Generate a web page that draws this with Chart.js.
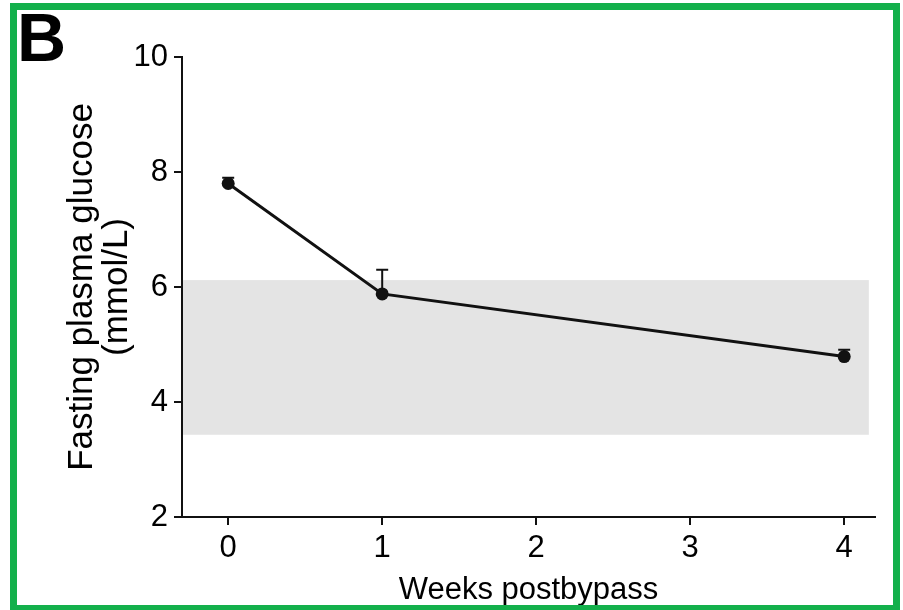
<!DOCTYPE html>
<html>
<head>
<meta charset="utf-8">
<script src="https://cdn.jsdelivr.net/npm/chart.js@4"></script>
<style>
  html, body { margin: 0; padding: 0; background: #fff; }
  #wrap { position: relative; width: 903px; height: 610px; overflow: hidden; }
  #chart-box { position: absolute; left: 0; top: 0; width: 903px; height: 610px; }
  #frame {
    position: absolute; left: 10px; top: 3px; width: 890px; height: 609px;
    box-sizing: border-box; border: 7px solid #13b04b; pointer-events: none;
  }
  #panel {
    position: absolute; left: 17px; top: 3px;
    font: bold 68px "Liberation Sans", Arial, sans-serif; line-height: 1; color: #000;
  }
</style>
</head>
<body>
<div id="wrap">
  <div id="chart-box"><canvas id="line-chart"></canvas></div>
  <div id="frame"></div>
  <div id="panel">B</div>
</div>
<script>
// datos
const weeks = [0, 1, 4];
const glucose = [7.8, 5.88, 4.79];
const glucoseErr = [0.1, 0.42, 0.12];   // solo barra superior
const normalRange = [3.43, 6.12];        // banda gris (rango normal)
const xTicks = [0, 1, 2, 3, 4];
const yTicks = [2, 4, 6, 8, 10];

const ink = '#111';
const fontFamily = '"Liberation Sans", Arial, sans-serif';

// banda gris + barras de error, dibujadas con las escalas del grafico
const extras = {
  id: 'extras',
  beforeDatasetsDraw(chart, args, opts) {
    const {ctx, chartArea, scales: {x, y}} = chart;
    ctx.save();
    // banda
    const top = y.getPixelForValue(normalRange[1]);
    const bottom = y.getPixelForValue(normalRange[0]);
    const right = x.getPixelForValue(opts.bandEnd);
    ctx.fillStyle = '#e4e4e4';
    ctx.fillRect(chartArea.left + 1, top, right - chartArea.left - 1, bottom - top);

    // barras de error
    ctx.strokeStyle = ink;
    ctx.lineWidth = 2;
    for (let i = 0; i < weeks.length; i++) {
      const px = x.getPixelForValue(weeks[i]);
      const py = y.getPixelForValue(glucose[i]);
      const pe = y.getPixelForValue(glucose[i] + glucoseErr[i]);
      ctx.beginPath();
      ctx.moveTo(px, py);
      ctx.lineTo(px, pe);
      ctx.moveTo(px - 6, pe);
      ctx.lineTo(px + 6, pe);
      ctx.stroke();
    }
    ctx.restore();
  }
};

new Chart(document.getElementById('line-chart'), {
  type: 'scatter',
  data: {
    datasets: [{
      label: 'Glucosa',
      data: weeks.map((w, i) => ({x: w, y: glucose[i]})),
      showLine: true,
      borderColor: ink,
      borderWidth: 3,
      backgroundColor: ink,
      pointBackgroundColor: ink,
      pointBorderColor: ink,
      pointRadius: 6.5,
      pointBorderWidth: 0
    }]
  },
  plugins: [extras],
  options: {
    responsive: true,
    maintainAspectRatio: false,
    animation: false,
    layout: { padding: { left: 0, right: 28, top: 57, bottom: 0 } },
    plugins: {
      legend: { display: false },
      tooltip: { enabled: false },
      extras: { bandEnd: 4.16 }
    },
    scales: {
      x: {
        type: 'linear',
        min: -0.3,
        max: 4.2,
        afterBuildTicks: s => { s.ticks = xTicks.map(v => ({value: v})); },
        afterFit: s => { s.height = 93; },
        grid: { drawOnChartArea: false, drawTicks: true, tickLength: 8, color: ink, lineWidth: 2 },
        border: { display: true, color: ink, width: 2 },
        ticks: { color: '#000', padding: 5, font: { family: fontFamily, size: 31 } },
        title: {
          display: true,
          text: 'Weeks postbypass',
          color: '#000',
          font: { family: fontFamily, size: 31, lineHeight: 1 },
          padding: { top: 0, bottom: 4 }
        }
      },
      y: {
        type: 'linear',
        min: 2,
        max: 10,
        afterBuildTicks: s => { s.ticks = yTicks.map(v => ({value: v})); },
        afterFit: s => { s.width = 182; },
        grid: { drawOnChartArea: false, drawTicks: true, tickLength: 8, color: ink, lineWidth: 2 },
        border: { display: true, color: ink, width: 2 },
        ticks: { color: '#000', padding: 6, font: { family: fontFamily, size: 31 } },
        title: {
          display: true,
          text: ['Fasting plasma glucose', '(mmol/L)'],
          color: '#000',
          font: { family: fontFamily, size: 35, lineHeight: 1 },
          padding: { top: 65, bottom: 0 }
        }
      }
    }
  }
});
</script>
</body>
</html>
